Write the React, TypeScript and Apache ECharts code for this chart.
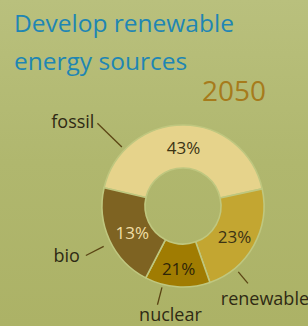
import React, { useEffect, useRef } from "react";
import * as echarts from "echarts";

// Data
const categories = ["fossil", "renewable", "nuclear", "bio"];
// arc sizes as drawn (%)
const sliceValues = [43, 23, 13, 21];
// percentages printed on the slices
const shareLabels = ["43%", "23%", "21%", "13%"];
const titleText = "Develop renewable\nenergy sources";
const yearText = "2050";

// styles
const sliceColors = ["#e6d38b", "#c3a631", "#a07c02", "#7e6322"];
const insideLabelColors = ["#3b3314", "#3b3314", "#2e2508", "#f1dfa6"];
const insideShift = [
  [0, 4],
  [-3, 0],
  [0, 0],
  [6, 0],
];
const CX = 183;
const CY = 206;
const R_IN = 38;
const R_OUT = 81;
// leader line: angle (deg, math), start radius, end radius; label offset & alignment
const leader = [
  { a: 136, r1: 85, r2: 119, dx: -3, dy: -2, align: "right", va: "middle" },
  { a: -50, r1: 86, r2: 101, dx: 17, dy: 6, align: "center", va: "top" },
  { a: -104.5, r1: 84, r2: 102, dx: 13, dy: 0, align: "center", va: "top" },
  { a: 207, r1: 89, r2: 109, dx: -6, dy: 0, align: "right", va: "middle" },
];

export default function App() {
  const ref = useRef<HTMLDivElement>(null);
  useEffect(() => {
    if (!ref.current) return;
    const chart = echarts.init(ref.current, undefined, { renderer: "svg" });
    const font = "'Open Sans', 'Noto Sans', sans-serif";
    const pt = (a: number, r: number) => [
      CX + r * Math.cos((a * Math.PI) / 180),
      CY - r * Math.sin((a * Math.PI) / 180),
    ];
    chart.setOption({
      animation: false,
      backgroundColor: "transparent",
      title: [
        {
          text: titleText,
          left: 9,
          top: -2,
          textStyle: {
            fontFamily: font,
            fontSize: 24.5,
            fontWeight: "normal",
            color: "#1f86b3",
            lineHeight: 38,
          },
        },
        {
          text: yearText,
          left: 197,
          top: 71,
          textStyle: {
            fontFamily: font,
            fontSize: 28,
            fontWeight: "normal",
            color: "#a67b1c",
          },
        },
      ],
      series: [
        {
          type: "pie",
          center: [CX, CY],
          radius: [R_IN, R_OUT],
          startAngle: 167,
          clockwise: true,
          silent: true,
          itemStyle: { borderColor: "#bfc77f", borderWidth: 1.6 },
          label: {
            show: true,
            position: "inside",
            fontFamily: font,
            fontSize: 17,
            formatter: (p: any) => shareLabels[p.dataIndex],
          },
          labelLine: { show: false },
          labelLayout: (p: any) => ({
            dx: insideShift[p.dataIndex][0],
            dy: insideShift[p.dataIndex][1],
          }),
          data: categories.map((c, i) => ({
            name: c,
            value: sliceValues[i],
            itemStyle: { color: sliceColors[i] },
            label: { color: insideLabelColors[i] },
          })),
        },
        {
          type: "pie",
          center: [CX, CY],
          radius: [R_OUT, R_OUT],
          startAngle: 167,
          clockwise: true,
          silent: true,
          itemStyle: { color: "transparent", borderWidth: 0 },
          label: {
            show: true,
            position: "outside",
            fontFamily: font,
            fontSize: 18,
            color: "#2f2a14",
            width: 120,
            overflow: "none",
            formatter: "{b}",
          },
          labelLine: {
            show: true,
            length: 10,
            length2: 5,
            lineStyle: { color: "#5b4514", width: 1.3 },
          },
          labelLayout: (p: any) => {
            const L = leader[p.dataIndex];
            const s = pt(L.a, L.r1);
            const e = pt(L.a, L.r2);
            return {
              x: e[0] + L.dx,
              y: e[1] + L.dy,
              align: L.align,
              verticalAlign: L.va,
              labelLinePoints: [s, e, e],
            };
          },
          data: categories.map((c, i) => ({ name: c, value: sliceValues[i] })),
        },
      ],
    });
    return () => chart.dispose();
  }, []);
  return (
    <div
      style={{
        position: "fixed",
        left: 0,
        top: 0,
        width: 308,
        height: 326,
        background: "linear-gradient(to bottom, #b9c07d 0%, #b0b76e 50%, #acb266 100%)",
      }}
    >
      <div ref={ref} style={{ width: 308, height: 326 }} />
    </div>
  );
}
